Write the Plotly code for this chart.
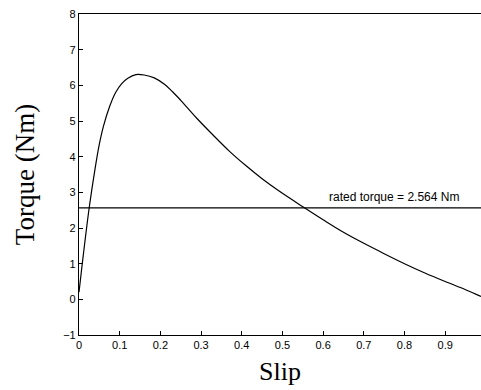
import plotly.graph_objects as go

slip = [0, 0.007, 0.025, 0.04, 0.05, 0.06, 0.075, 0.09, 0.105, 0.12, 0.14,
        0.16, 0.185, 0.21, 0.23, 0.25, 0.29, 0.33, 0.37, 0.41, 0.45, 0.49,
        0.555, 0.6, 0.65, 0.7, 0.75, 0.8, 0.85, 0.9, 0.95, 0.988]
torque = [0.2, 0.9, 2.56, 3.7, 4.35, 4.85, 5.4, 5.8, 6.05, 6.2, 6.3,
          6.29, 6.21, 6.03, 5.82, 5.58, 5.07, 4.6, 4.15, 3.75, 3.38, 3.05,
          2.56, 2.23, 1.88, 1.57, 1.28, 1.0, 0.74, 0.5, 0.27, 0.08]
rated_torque = 2.564
rated_label = "rated torque = 2.564 Nm"
x_ticks = [0, 0.1, 0.2, 0.3, 0.4, 0.5, 0.6, 0.7, 0.8, 0.9]
y_ticks = [-1, 0, 1, 2, 3, 4, 5, 6, 7, 8]
x_max = 0.988

fig = go.Figure()
fig.add_trace(go.Scatter(x=slip, y=torque, mode="lines",
                         line=dict(color="black", width=1.2, shape="spline", smoothing=1.0),
                         showlegend=False))
fig.add_trace(go.Scatter(x=[0, x_max], y=[rated_torque, rated_torque], mode="lines",
                         line=dict(color="black", width=1.2), showlegend=False))
fig.add_annotation(x=0.774, y=rated_torque, text=rated_label, showarrow=False,
                   yanchor="bottom", yshift=2,
                   font=dict(family="Liberation Sans", size=12, color="black"))

tickfont = dict(family="Liberation Sans", size=11, color="black")
fig.update_layout(
    width=481, height=390,
    margin=dict(l=79, r=0, t=14, b=55),
    paper_bgcolor="white", plot_bgcolor="white",
    xaxis=dict(range=[0, x_max], tickvals=x_ticks, ticktext=[f"{v:g}" for v in x_ticks],
               ticks="inside", ticklen=4, tickcolor="black", showline=True,
               linecolor="black", linewidth=1.2, mirror=True, showgrid=False,
               zeroline=False, tickfont=tickfont,
               title=dict(text="Slip", font=dict(family="Liberation Serif", size=26, color="black"),
                          standoff=11)),
    yaxis=dict(range=[-1, 8], tickvals=y_ticks, ticks="inside", ticklen=4,
               tickcolor="black", showline=True, linecolor="black", linewidth=1.2,
               showgrid=False, zeroline=False, tickfont=tickfont,
               title=dict(text="Torque (Nm)", font=dict(family="Liberation Serif", size=27, color="black"),
                          standoff=20)),
)
fig.write_html("out.html")
